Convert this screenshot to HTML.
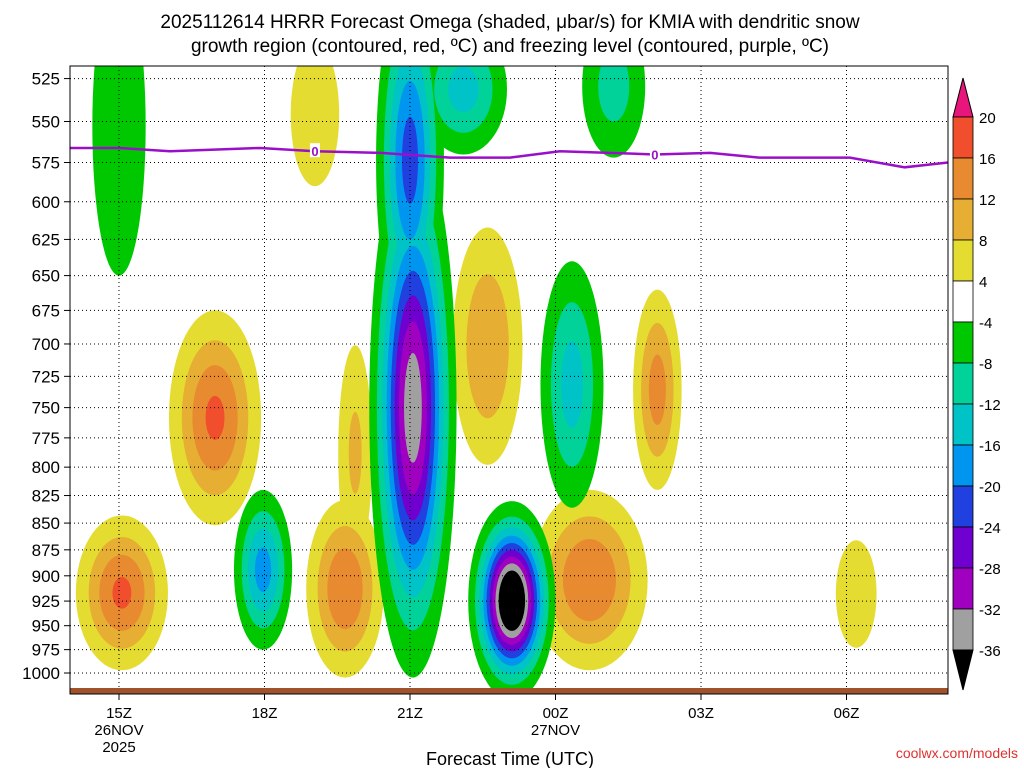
<!DOCTYPE html>
<html><head><meta charset="utf-8"><style>
body{margin:0;background:#fff;width:1024px;height:768px;overflow:hidden;font-family:"Liberation Sans",sans-serif}
svg text{font-family:"Liberation Sans",sans-serif}
</style></head><body>
<svg id="chart" width="1024" height="768" viewBox="0 0 1024 768" xmlns="http://www.w3.org/2000/svg">
<text x="510" y="28" font-size="19" text-anchor="middle">2025112614 HRRR Forecast Omega (shaded, μbar/s) for KMIA with dendritic snow</text>
<text x="510" y="52" font-size="19" text-anchor="middle">growth region (contoured, red, ºC) and freezing level (contoured, purple, ºC)</text>
<defs><clipPath id="plotclip"><rect x="70" y="66" width="878" height="628"/></clipPath></defs>
<g id="shading" clip-path="url(#plotclip)"></g>
<g id="grid"></g>
<g id="fz" clip-path="url(#plotclip)"></g>
<rect x="70" y="688" width="878" height="6" fill="#a0522d"/>
<rect x="70" y="66" width="878" height="628" fill="none" stroke="#000" stroke-width="1"/>
<g id="axes"></g>
<g id="cbar"></g>
<text x="510" y="765" font-size="18" text-anchor="middle">Forecast Time (UTC)</text>
<text x="1018" y="758" font-size="14" fill="#e03030" text-anchor="end">coolwx.com/models</text>
</svg>
<script>
// ---- data ----
const xTickHours=[0,3,6,9,12,15];
const xTickLabels=["15Z","18Z","21Z","00Z","03Z","06Z"];
const pressureLevels=[525,550,575,600,625,650,675,700,725,750,775,800,825,850,875,900,925,950,975,1000];
// blobs: hour (from 15Z), half-width hours, top/bottom pressure of outer (|4|) contour, peak omega
const blobHour=[0.0,6.06,6.0,7.1,8.1,9.34,10.2,2.97, 4.04,1.98,4.87,0.06,4.66,7.6,9.7,11.1,15.2];
const blobHW=[0.55,0.9,0.7,0.9,0.9,0.65,0.65,0.6, 0.5,0.95,0.35,0.95,0.8,0.72,1.2,0.5,0.42];
const blobTop=[470,560,470,495,830,640,490,820, 505,675,701,843,829,617,820,660,866];
const blobBot=[650,1005,700,570,1030,836,572,975, 590,852,885,997,1005,798,997,820,973];
const blobPeak=[-6,-35,-22,-14,-45,-14,-10,-18, 6,17,9,17,16,12,16,14,6];
const fzHours=[-1.01,0,1.05,2.91,4.04,5.38,6.82,8.06,9.09,11.05,12.19,13.2,15.07,16.2,17.1];
const fzPres=[566,566,568,566,568,569,572,572,568,570,569,572,572,578,575];
const cbLevels=[20,16,12,8,4,-4,-8,-12,-16,-20,-24,-28,-32,-36];
const posLevels=[4,8,12,16,20];
const posColors=["#e5dc32","#e6ae32","#e88a30","#f04e2c","#e8157d"];
const negLevels=[-4,-8,-12,-16,-20,-24,-28,-32,-36];
const negColors=["#00c800","#00d29a","#00c3c8","#0096f0","#2040e0","#7000d0","#a000c0","#a0a0a0","#000000"];
// ---- scales ----
const X=h=>119+h*48.5, Y=p=>673+922.5*Math.log(p/1000);
const NS="http://www.w3.org/2000/svg";
function mk(t,a,parent){const e=document.createElementNS(NS,t);for(const k in a)e.setAttribute(k,a[k]);parent.appendChild(e);return e;}
const sh=document.getElementById('shading');
function drawSet(levels,colors,sign){
  levels.forEach((L,li)=>{
    blobPeak.forEach((P,i)=>{
      if(Math.sign(P)!==sign||Math.abs(P)<=Math.abs(L))return;
      const f=Math.sqrt(Math.log(Math.abs(P)/Math.abs(L))/Math.log(Math.abs(P)/4));
      const yt=Y(blobTop[i]),yb=Y(blobBot[i]);
      const e=mk('ellipse',{cx:X(blobHour[i]),cy:(yt+yb)/2,rx:blobHW[i]*48.5*f,ry:(yb-yt)/2*f,fill:colors[li]},sh);
      
      
    });
  });
}
drawSet(posLevels,posColors,1);
drawSet(negLevels,negColors,-1);
// grid
const g=document.getElementById('grid'),ax=document.getElementById('axes');
pressureLevels.forEach(p=>{
  const l=mk('line',{x1:70,x2:948,y1:Y(p),y2:Y(p),stroke:'#000','stroke-dasharray':'1 3','stroke-width':1},g);
  
  
  const t=mk('text',{x:60,y:Y(p)+6,'font-size':17,'text-anchor':'end'},ax);t.textContent=p;
  
  
  mk('line',{x1:64,x2:70,y1:Y(p),y2:Y(p),stroke:'#000'},ax);
});
xTickHours.forEach((h,i)=>{
  const l=mk('line',{x1:X(h),x2:X(h),y1:66,y2:694,stroke:'#000','stroke-dasharray':'1 3','stroke-width':1},g);
  
  
  mk('line',{x1:X(h),x2:X(h),y1:694,y2:700,stroke:'#000'},ax);
  const t=mk('text',{x:X(h),y:718,'font-size':15,'text-anchor':'middle'},ax);t.textContent=xTickLabels[i];
  
  
});
[["26NOV",0,735],["2025",0,752],["27NOV",9,735]].forEach(d=>{
  const t=mk('text',{x:X(d[1]),y:d[2],'font-size':15,'text-anchor':'middle'},ax);t.textContent=d[0];
  
  
});
// freezing line
const fz=document.getElementById('fz');
const pl=mk('polyline',{points:fzHours.map((h,i)=>X(h)+','+Y(fzPres[i])).join(' '),fill:'none',stroke:'#9a10c8','stroke-width':2.5},fz);


[4.04,11.05].forEach(h=>{
  const i=fzHours.indexOf(h);
  mk('rect',{x:X(h)-5,y:Y(fzPres[i])-8,width:10,height:14,fill:'#fff'},fz);
  const t=mk('text',{x:X(h),y:Y(fzPres[i])+5,'font-size':13,'font-weight':'bold',fill:'#9a10c8','text-anchor':'middle'},fz);t.textContent='0';
  
  
});
// colorbar
const cb=document.getElementById('cbar');
const cbY=i=>117+i*41, cx0=953,cw=20;
const cbColors=["#f04e2c","#e88a30","#e6ae32","#e5dc32","#ffffff","#00c800","#00d29a","#00c3c8","#0096f0","#2040e0","#7000d0","#a000c0","#a0a0a0"];
mk('polygon',{points:`${cx0},117 ${cx0+cw},117 ${cx0+cw/2},78`,fill:'#e8157d',stroke:'#000'},cb);
cbColors.forEach((c,i)=>{
  const r=mk('rect',{x:cx0,y:cbY(i),width:cw,height:41,fill:c,stroke:'#000','stroke-width':0.8},cb);
  
  
});
mk('polygon',{points:`${cx0},${cbY(13)} ${cx0+cw},${cbY(13)} ${cx0+cw/2},690`,fill:'#000',stroke:'#000'},cb);
cbLevels.forEach((v,i)=>{
  const t=mk('text',{x:979,y:cbY(i)+6,'font-size':15},cb);t.textContent=v;
  
  
});
</script>
</body></html>
